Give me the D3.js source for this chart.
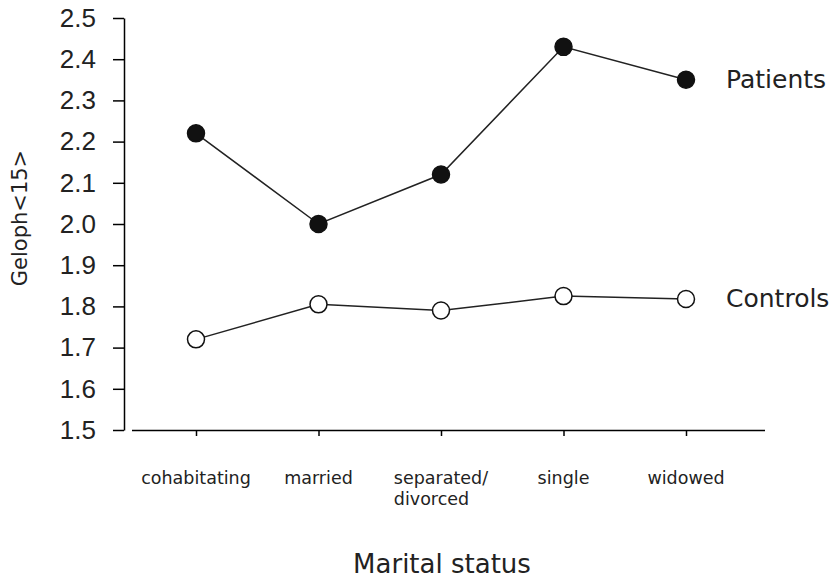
<!DOCTYPE html>
<html>
<head>
<meta charset="utf-8">
<script src="https://cdn.jsdelivr.net/npm/d3@7"></script>
<style>
body { margin: 0; background: #fff; }
svg { font-family: "DejaVu Sans", sans-serif; }
</style>
</head>
<body>
<svg width="834" height="578"></svg>
<script>
var categories = ["cohabitating", "married", "separated/\ndivorced", "single", "widowed"];
var patients = [2.22, 2.00, 2.12, 2.43, 2.35];
var controls = [1.72, 1.805, 1.79, 1.825, 1.818];
var yTicks = [1.5, 1.6, 1.7, 1.8, 1.9, 2.0, 2.1, 2.2, 2.3, 2.4, 2.5];

var svg = d3.select("svg");

var x = d3.scalePoint()
    .domain(categories)
    .range([196, 686]);

var y = d3.scaleLinear()
    .domain([1.5, 2.5])
    .range([430, 18]);

// y axis
var yAxis = svg.append("g")
    .attr("transform", "translate(124,0)")
    .call(d3.axisLeft(y).tickValues(yTicks).tickFormat(d3.format(".1f")).tickSize(11).tickSizeOuter(0));
yAxis.select(".domain").attr("stroke-width", 1.5);
yAxis.selectAll(".tick line").attr("stroke-width", 1.5);
yAxis.selectAll(".tick text")
    .attr("x", -28)
    .attr("font-size", 26)
    .attr("fill", "#222");

// x axis (separate line, small gap from y axis)
var xAxis = svg.append("g")
    .attr("transform", "translate(0,430)")
    .call(d3.axisBottom(x).tickSize(6).tickSizeOuter(0).tickFormat(""));
xAxis.select(".domain").attr("d", "M132,0.5H765").attr("stroke-width", 1.5);
xAxis.selectAll(".tick line").attr("stroke-width", 1.5);

// category labels
var catLabels = svg.append("g");
categories.forEach(function (c) {
    var lines = c.split("\n");
    var t = catLabels.append("text")
        .attr("y", 484)
        .attr("font-size", 17.5)
        .attr("fill", "#222");
    lines.forEach(function (l, i) {
        t.append("tspan")
            .attr("x", x(c))
            .attr("dy", i === 0 ? 0 : 21)
            .text(l);
    });
    if (lines.length > 1) {
        // left-align the lines, block centred on the tick
        var w = t.node().getBBox().width;
        t.selectAll("tspan").attr("x", x(c) - w / 2);
    } else {
        t.attr("text-anchor", "middle");
    }
});

// axis titles
svg.append("text")
    .attr("x", 442)
    .attr("y", 573)
    .attr("text-anchor", "middle")
    .attr("font-size", 26)
    .attr("fill", "#222")
    .text("Marital status");

svg.append("text")
    .attr("transform", "translate(27,218) rotate(-90)")
    .attr("text-anchor", "middle")
    .attr("font-size", 21)
    .attr("fill", "#222")
    .text("Geloph<15>");

var line = d3.line()
    .x(function (d, i) { return x(categories[i]); })
    .y(function (d) { return y(d); });

function drawSeries(vals, fill, label) {
    svg.append("path")
        .datum(vals)
        .attr("d", line)
        .attr("fill", "none")
        .attr("stroke", "#222")
        .attr("stroke-width", 1.5);
    svg.selectAll(null)
        .data(vals)
        .enter().append("circle")
        .attr("cx", function (d, i) { return x(categories[i]); })
        .attr("cy", function (d) { return y(d); })
        .attr("r", 8.5)
        .attr("fill", fill)
        .attr("stroke", "#111")
        .attr("stroke-width", 1.5);
    svg.append("text")
        .attr("x", 726)
        .attr("y", y(vals[vals.length - 1]) + 8)
        .attr("font-size", 25)
        .attr("fill", "#222")
        .text(label);
}

drawSeries(patients, "#111", "Patients");
drawSeries(controls, "#fff", "Controls");
</script>
</body>
</html>
